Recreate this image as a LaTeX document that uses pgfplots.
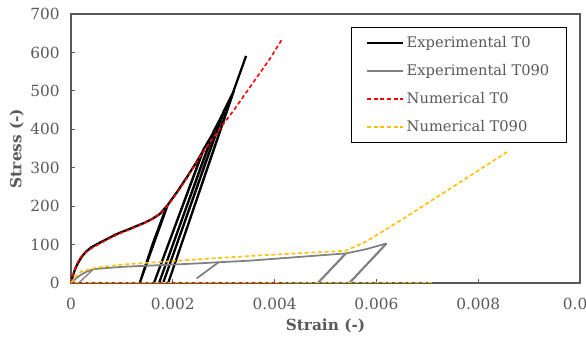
\documentclass[border=0pt]{standalone}
\usepackage{pgfplots}
\pgfplotsset{compat=1.18}
\usepackage{fontspec}
\setmainfont{DejaVu Serif}
\definecolor{axgray}{HTML}{595959}
\definecolor{sgray}{HTML}{808080}
\definecolor{nyellow}{HTML}{FFC000}
\begin{document}
\begin{tikzpicture}
\begin{axis}[
  at={(0,0)}, anchor=south west,
  scale only axis, width=381.75pt, height=201.75pt,
  xmin=0, xmax=0.01, ymin=0, ymax=700,
  xtick={0,0.002,0.004,0.006,0.008,0.01},
  xticklabels={0,0.002,0.004,0.006,0.008,0.01},
  ytick={0,100,...,700},
  /pgf/number format/assume math mode=true,
  scaled x ticks=false,
  tick pos=left, tick align=inside, major tick length=3pt,
  axis line style={axgray, line width=0.8pt},
  every tick/.style={axgray, line width=0.6pt},
  tick label style={font=\fontsize{11.5}{13}\selectfont, text=axgray},
  xticklabel style={yshift=-8pt},
  yticklabel style={xshift=-5pt},
  xlabel={\textbf{Strain (-)}}, ylabel={\textbf{Stress (-)}},
  label style={font=\fontsize{11.5}{13}\selectfont, text=axgray},
  xlabel style={yshift=0pt},
  ylabel style={yshift=-2pt},
  legend cell align=left,
  legend style={at={(0.9745,0.9517)}, anchor=north east, draw=black, fill=white, line width=0.6pt,
    font=\fontsize{11}{13}\selectfont, text=axgray, inner xsep=11pt, inner ysep=5pt,
    row sep=7pt, cells={anchor=west}},
  legend image code/.code={\draw[#1] (0pt,0pt) -- (27pt,0pt);},
  legend entries={Experimental T0, Experimental T090, Numerical T0, Numerical T090},
]
\addlegendimage{black, line width=1.6pt}
\addlegendimage{sgray, line width=1.3pt}
\addlegendimage{red, line width=1.2pt, dash pattern=on 3pt off 2pt}
\addlegendimage{nyellow, line width=1.2pt, dash pattern=on 3pt off 2pt}
% Experimental T0
\addplot[black, line width=1.7pt, forget plot] coordinates {
(0,0)(0.00003,15)(0.00007,32)(0.00011,45)(0.00016,57)(0.00022,70)(0.0003,82)(0.0004,93)(0.00054,103)(0.0007,114)(0.00086,125)(0.001,133)(0.00116,141)(0.0013,149)(0.00145,157)(0.0016,167)(0.00175,180)(0.00188,200)
(0.0016,100)(0.00135,0)(0.00162,100)(0.0019,203)(0.0021,240)(0.0023,280)(0.0025,322)(0.0026,345)
(0.00163,0)(0.0026,347)(0.0028,392)(0.00173,0)(0.0028,394)(0.003,445)(0.00181,0)(0.003,447)(0.0032,500)(0.00191,0)(0.0032,502)(0.00344,591)
};
% Experimental T090
\addplot[sgray, line width=1.3pt, forget plot] coordinates {
(0,0)(0.0001,12)(0.0002,22)(0.0003,29)(0.00044,36)(0.0007,39)(0.001,42)(0.0015,45)(0.002,48)(0.0025,51)(0.0029,54)(0.0035,58)(0.004,63)(0.0045,68)(0.005,73)(0.0054,77)(0.0058,88)(0.0062,103)
};
\addplot[sgray, line width=1.3pt, forget plot] coordinates {(0.0029,54)(0.00247,12)};
\addplot[sgray, line width=1.6pt, forget plot] coordinates {(0.0054,77)(0.00485,0)};
\addplot[sgray, line width=1.6pt, forget plot] coordinates {(0.0062,103)(0.00547,0)};
\addplot[sgray, line width=1.0pt, forget plot] coordinates {(0.00044,36)(0.00015,0)};
% zero line
\addplot[axgray, line width=1.4pt, dotted, forget plot] coordinates {(0,0)(0.0071,0)};
% Numerical T0
\addplot[red, line width=1.2pt, dash pattern=on 3pt off 2pt, forget plot] coordinates {
(0,0)(0.00005,25)(0.0001,45)(0.00016,62)(0.00021,70)(0.0003,80)(0.0004,90)(0.0006,105)(0.0008,119)(0.001,131)(0.0012,142)(0.0014,153)(0.0016,167)(0.0018,186)(0.00195,210)(0.0021,238)(0.00227,272)(0.0025,322)(0.0027,360)(0.0029,397)(0.0032,450)(0.00357,520)(0.0039,582)(0.00416,637)
};
\addplot[red, line width=1.2pt, dash pattern=on 3pt off 2pt, forget plot] coordinates {(0,0)(0.0042,0)};
% Numerical T090
\addplot[nyellow, line width=1.2pt, dash pattern=on 3pt off 2pt, forget plot] coordinates {
(0,0)(0.0001,18)(0.0002,30)(0.0005,40)(0.001,48)(0.002,57)(0.003,66)(0.004,74)(0.005,81)(0.0054,84)(0.0058,108)(0.0065,165)(0.0075,250)(0.00858,342)
};
\addplot[nyellow, line width=1.2pt, dash pattern=on 3pt off 2pt, dash phase=2pt, forget plot] coordinates {(0,0)(0.0071,0)};
\end{axis}
\pgfresetboundingbox
\useasboundingbox (-53.25pt,-43.5pt) rectangle (386.25pt,212.25pt);
\end{tikzpicture}
\end{document}
